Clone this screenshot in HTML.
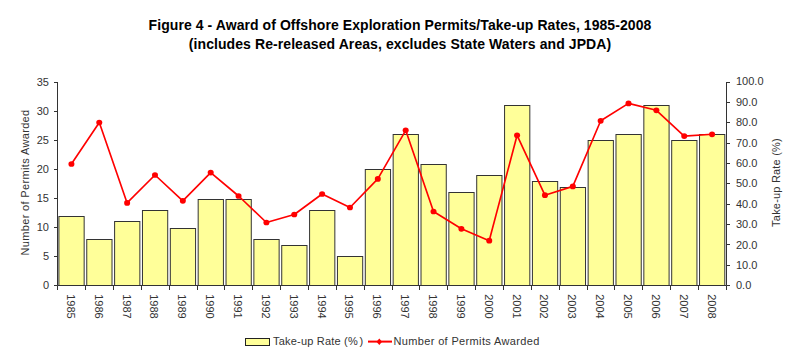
<!DOCTYPE html><html><head><meta charset="utf-8"><style>html,body{margin:0;padding:0;background:#fff;width:800px;height:357px;overflow:hidden}svg{display:block}text{font-family:"Liberation Sans",sans-serif}</style></head><body>
<svg width="800" height="357" viewBox="0 0 800 357">
<text x="400" y="30" text-anchor="middle" font-weight="bold" font-size="14" letter-spacing="0.07" fill="#000">Figure 4 - Award of Offshore Exploration Permits/Take-up Rates, 1985-2008</text>
<text x="400" y="48.5" text-anchor="middle" font-weight="bold" font-size="14" letter-spacing="0.08" fill="#000">(includes Re-released Areas, excludes State Waters and JPDA)</text>
<rect x="58.9" y="216.5" width="25.25416666666667" height="69.0" fill="#FFFF99" stroke="#333" stroke-width="1"/>
<rect x="86.75416666666668" y="239.5" width="25.254166666666663" height="46.0" fill="#FFFF99" stroke="#333" stroke-width="1"/>
<rect x="114.60833333333335" y="221.5" width="25.254166666666663" height="64.0" fill="#FFFF99" stroke="#333" stroke-width="1"/>
<rect x="142.4625" y="210.5" width="25.254166666666663" height="75.0" fill="#FFFF99" stroke="#333" stroke-width="1"/>
<rect x="170.3166666666667" y="228.5" width="25.254166666666663" height="57.0" fill="#FFFF99" stroke="#333" stroke-width="1"/>
<rect x="198.17083333333335" y="199.5" width="25.254166666666663" height="86.0" fill="#FFFF99" stroke="#333" stroke-width="1"/>
<rect x="226.025" y="199.5" width="25.254166666666663" height="86.0" fill="#FFFF99" stroke="#333" stroke-width="1"/>
<rect x="253.8791666666667" y="239.5" width="25.25416666666669" height="46.0" fill="#FFFF99" stroke="#333" stroke-width="1"/>
<rect x="281.73333333333335" y="245.5" width="25.25416666666672" height="40.0" fill="#FFFF99" stroke="#333" stroke-width="1"/>
<rect x="309.5875" y="210.5" width="25.25416666666672" height="75.0" fill="#FFFF99" stroke="#333" stroke-width="1"/>
<rect x="337.44166666666666" y="256.5" width="25.25416666666672" height="29.0" fill="#FFFF99" stroke="#333" stroke-width="1"/>
<rect x="365.29583333333335" y="169.5" width="25.25416666666672" height="116.0" fill="#FFFF99" stroke="#333" stroke-width="1"/>
<rect x="393.15" y="134.5" width="25.25416666666672" height="151.0" fill="#FFFF99" stroke="#333" stroke-width="1"/>
<rect x="421.00416666666666" y="164.5" width="25.25416666666672" height="121.0" fill="#FFFF99" stroke="#333" stroke-width="1"/>
<rect x="448.85833333333335" y="192.5" width="25.25416666666672" height="93.0" fill="#FFFF99" stroke="#333" stroke-width="1"/>
<rect x="476.7125" y="175.5" width="25.25416666666672" height="110.0" fill="#FFFF99" stroke="#333" stroke-width="1"/>
<rect x="504.56666666666666" y="105.5" width="25.254166666666663" height="180.0" fill="#FFFF99" stroke="#333" stroke-width="1"/>
<rect x="532.4208333333333" y="181.5" width="25.254166666666606" height="104.0" fill="#FFFF99" stroke="#333" stroke-width="1"/>
<rect x="560.275" y="187.5" width="25.254166666666606" height="98.0" fill="#FFFF99" stroke="#333" stroke-width="1"/>
<rect x="588.1291666666667" y="140.5" width="25.254166666666606" height="145.0" fill="#FFFF99" stroke="#333" stroke-width="1"/>
<rect x="615.9833333333333" y="134.5" width="25.254166666666606" height="151.0" fill="#FFFF99" stroke="#333" stroke-width="1"/>
<rect x="643.8375" y="105.5" width="25.254166666666606" height="180.0" fill="#FFFF99" stroke="#333" stroke-width="1"/>
<rect x="671.6916666666667" y="140.5" width="25.254166666666606" height="145.0" fill="#FFFF99" stroke="#333" stroke-width="1"/>
<rect x="699.5458333333333" y="134.5" width="25.254166666666606" height="151.0" fill="#FFFF99" stroke="#333" stroke-width="1"/>
<path d="M57.5 82V285.5M726.5 82V285.5M57.5 285.5H726.5" stroke="#333" stroke-width="1" fill="none"/>
<path d="M54 285.5H57.5M54 256.5H57.5M54 227.5H57.5M54 198.5H57.5M54 169.5H57.5M54 140.5H57.5M54 111.5H57.5M54 82.5H57.5M726.5 285.5H730M726.5 265.5H730M726.5 244.5H730M726.5 224.5H730M726.5 204.5H730M726.5 183.5H730M726.5 163.5H730M726.5 143.5H730M726.5 122.5H730M726.5 102.5H730M726.5 82.5H730M57.5 285.5V290M85.5 285.5V290M113.5 285.5V290M141.5 285.5V290M169.5 285.5V290M197.5 285.5V290M224.5 285.5V290M252.5 285.5V290M280.5 285.5V290M308.5 285.5V290M336.5 285.5V290M364.5 285.5V290M392.5 285.5V290M419.5 285.5V290M447.5 285.5V290M475.5 285.5V290M503.5 285.5V290M531.5 285.5V290M559.5 285.5V290M587.5 285.5V290M614.5 285.5V290M642.5 285.5V290M670.5 285.5V290M698.5 285.5V290M726.5 285.5V290" stroke="#333" stroke-width="1" fill="none"/>
<text x="49" y="289.4" text-anchor="end" font-size="11" fill="#333">0</text>
<text x="49" y="260.3" text-anchor="end" font-size="11" fill="#333">5</text>
<text x="49" y="231.3" text-anchor="end" font-size="11" fill="#333">10</text>
<text x="49" y="202.2" text-anchor="end" font-size="11" fill="#333">15</text>
<text x="49" y="173.1" text-anchor="end" font-size="11" fill="#333">20</text>
<text x="49" y="144.0" text-anchor="end" font-size="11" fill="#333">25</text>
<text x="49" y="115.0" text-anchor="end" font-size="11" fill="#333">30</text>
<text x="49" y="85.9" text-anchor="end" font-size="11" fill="#333">35</text>
<text x="736" y="289.4" font-size="11" fill="#333">0.0</text>
<text x="736" y="269.0" font-size="11" fill="#333">10.0</text>
<text x="736" y="248.6" font-size="11" fill="#333">20.0</text>
<text x="736" y="228.1" font-size="11" fill="#333">30.0</text>
<text x="736" y="207.7" font-size="11" fill="#333">40.0</text>
<text x="736" y="187.3" font-size="11" fill="#333">50.0</text>
<text x="736" y="166.9" font-size="11" fill="#333">60.0</text>
<text x="736" y="146.5" font-size="11" fill="#333">70.0</text>
<text x="736" y="126.0" font-size="11" fill="#333">80.0</text>
<text x="736" y="105.6" font-size="11" fill="#333">90.0</text>
<text x="736" y="85.2" font-size="11" fill="#333">100.0</text>
<text transform="translate(66.8,294.2) rotate(90)" font-size="11" fill="#333">1985</text>
<text transform="translate(94.7,294.2) rotate(90)" font-size="11" fill="#333">1986</text>
<text transform="translate(122.5,294.2) rotate(90)" font-size="11" fill="#333">1987</text>
<text transform="translate(150.4,294.2) rotate(90)" font-size="11" fill="#333">1988</text>
<text transform="translate(178.2,294.2) rotate(90)" font-size="11" fill="#333">1989</text>
<text transform="translate(206.1,294.2) rotate(90)" font-size="11" fill="#333">1990</text>
<text transform="translate(234.0,294.2) rotate(90)" font-size="11" fill="#333">1991</text>
<text transform="translate(261.8,294.2) rotate(90)" font-size="11" fill="#333">1992</text>
<text transform="translate(289.7,294.2) rotate(90)" font-size="11" fill="#333">1993</text>
<text transform="translate(317.5,294.2) rotate(90)" font-size="11" fill="#333">1994</text>
<text transform="translate(345.4,294.2) rotate(90)" font-size="11" fill="#333">1995</text>
<text transform="translate(373.2,294.2) rotate(90)" font-size="11" fill="#333">1996</text>
<text transform="translate(401.1,294.2) rotate(90)" font-size="11" fill="#333">1997</text>
<text transform="translate(428.9,294.2) rotate(90)" font-size="11" fill="#333">1998</text>
<text transform="translate(456.8,294.2) rotate(90)" font-size="11" fill="#333">1999</text>
<text transform="translate(484.6,294.2) rotate(90)" font-size="11" fill="#333">2000</text>
<text transform="translate(512.5,294.2) rotate(90)" font-size="11" fill="#333">2001</text>
<text transform="translate(540.3,294.2) rotate(90)" font-size="11" fill="#333">2002</text>
<text transform="translate(568.2,294.2) rotate(90)" font-size="11" fill="#333">2003</text>
<text transform="translate(596.1,294.2) rotate(90)" font-size="11" fill="#333">2004</text>
<text transform="translate(623.9,294.2) rotate(90)" font-size="11" fill="#333">2005</text>
<text transform="translate(651.8,294.2) rotate(90)" font-size="11" fill="#333">2006</text>
<text transform="translate(679.6,294.2) rotate(90)" font-size="11" fill="#333">2007</text>
<text transform="translate(707.5,294.2) rotate(90)" font-size="11" fill="#333">2008</text>
<text transform="translate(28.5,182.5) rotate(-90)" text-anchor="middle" font-size="11" letter-spacing="0.35" fill="#333">Number of Permits Awarded</text>
<text transform="translate(780,182.5) rotate(-90)" text-anchor="middle" font-size="11" letter-spacing="0.2" fill="#333">Take-up Rate (%)</text>
<polyline points="71.4,164.0 99.3,122.5 127.1,202.9 155.0,175 182.8,200.8 210.7,172.6 238.6,196 266.4,222.5 294.3,214.5 322.1,194 350.0,207.5 377.8,178.9 405.7,130.3 433.5,211.5 461.4,228.8 489.2,240.7 517.1,135.3 544.9,195.2 572.8,186.4 600.7,120.8 628.5,103.4 656.4,110.3 684.2,136.1 712.1,134.3" fill="none" stroke="#FF0000" stroke-width="1.65" stroke-linejoin="round"/>
<ellipse cx="71.43" cy="164.0" rx="3.0" ry="2.85" fill="#FF0000"/>
<ellipse cx="99.28" cy="122.5" rx="3.0" ry="2.85" fill="#FF0000"/>
<ellipse cx="127.14" cy="202.9" rx="3.0" ry="2.85" fill="#FF0000"/>
<ellipse cx="154.99" cy="175" rx="3.0" ry="2.85" fill="#FF0000"/>
<ellipse cx="182.84" cy="200.8" rx="3.0" ry="2.85" fill="#FF0000"/>
<ellipse cx="210.70" cy="172.6" rx="3.0" ry="2.85" fill="#FF0000"/>
<ellipse cx="238.55" cy="196" rx="3.0" ry="2.85" fill="#FF0000"/>
<ellipse cx="266.41" cy="222.5" rx="3.0" ry="2.85" fill="#FF0000"/>
<ellipse cx="294.26" cy="214.5" rx="3.0" ry="2.85" fill="#FF0000"/>
<ellipse cx="322.11" cy="194" rx="3.0" ry="2.85" fill="#FF0000"/>
<ellipse cx="349.97" cy="207.5" rx="3.0" ry="2.85" fill="#FF0000"/>
<ellipse cx="377.82" cy="178.9" rx="3.0" ry="2.85" fill="#FF0000"/>
<ellipse cx="405.68" cy="130.3" rx="3.0" ry="2.85" fill="#FF0000"/>
<ellipse cx="433.53" cy="211.5" rx="3.0" ry="2.85" fill="#FF0000"/>
<ellipse cx="461.39" cy="228.8" rx="3.0" ry="2.85" fill="#FF0000"/>
<ellipse cx="489.24" cy="240.7" rx="3.0" ry="2.85" fill="#FF0000"/>
<ellipse cx="517.09" cy="135.3" rx="3.0" ry="2.85" fill="#FF0000"/>
<ellipse cx="544.95" cy="195.2" rx="3.0" ry="2.85" fill="#FF0000"/>
<ellipse cx="572.80" cy="186.4" rx="3.0" ry="2.85" fill="#FF0000"/>
<ellipse cx="600.66" cy="120.8" rx="3.0" ry="2.85" fill="#FF0000"/>
<ellipse cx="628.51" cy="103.4" rx="3.0" ry="2.85" fill="#FF0000"/>
<ellipse cx="656.36" cy="110.3" rx="3.0" ry="2.85" fill="#FF0000"/>
<ellipse cx="684.22" cy="136.1" rx="3.0" ry="2.85" fill="#FF0000"/>
<ellipse cx="712.07" cy="134.3" rx="3.0" ry="2.85" fill="#FF0000"/>
<rect x="245.5" y="338.5" width="24" height="7" fill="#FFFF99" stroke="#222" stroke-width="1"/>
<text x="273" y="344.6" font-size="11" letter-spacing="0.2" fill="#333">Take-up Rate (%<tspan dx="1.5">)</tspan></text>
<path d="M368 341.6H392" stroke="#FF0000" stroke-width="2"/>
<path d="M379.3 338.6L382.1 341.8L379.3 345L376.5 341.8Z" fill="#FF0000"/>
<text x="393.5" y="344.6" font-size="11" letter-spacing="0.35" fill="#333">Number of Permits Awarded</text>
</svg></body></html>
